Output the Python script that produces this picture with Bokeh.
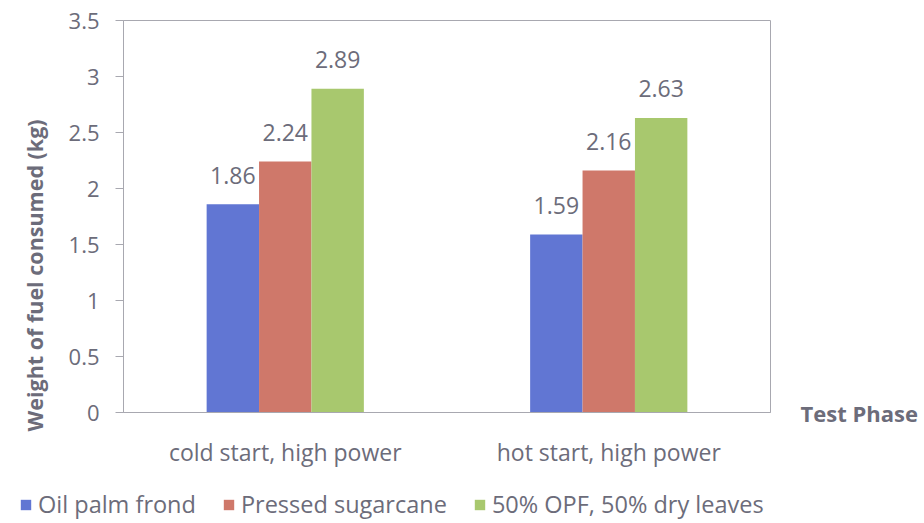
from bokeh.plotting import figure
from bokeh.layouts import column
from bokeh.models import (ColumnDataSource, FactorRange, Legend, LegendItem, Title,
                          NumeralTickFormatter, FixedTicker, LinearAxis, Range1d)
from bokeh.transform import dodge
from bokeh.core.properties import value
from bokeh.embed import file_html
from bokeh.resources import INLINE

phases = ["cold start, high power", "hot start, high power"]
series = ["Oil palm frond", "Pressed sugarcane", "50% OPF, 50% dry leaves"]
oil_palm = [1.86, 1.59]
sugarcane = [2.24, 2.16]
opf_leaves = [2.89, 2.63]
y_ticks = [0, 0.5, 1, 1.5, 2, 2.5, 3, 3.5]
colors = ["#6176d3", "#cf786a", "#a8c86e"]

FONT = "Open Sans"
TXT = "#6c6c7a"
AX = "#a8a8b0"

src = ColumnDataSource(dict(
    phase=phases, oil=oil_palm, sug=sugarcane, opf=opf_leaves,
    oil_t=[f"{v:.2f}" for v in oil_palm],
    sug_t=[f"{v:.2f}" for v in sugarcane],
    opf_t=[f"{v:.2f}" for v in opf_leaves],
))

xr = FactorRange(*phases, range_padding=0)
p = figure(x_range=xr, y_range=(0, 3.5),
           width=920, height=470, output_backend="svg", toolbar_location=None,
           min_border_left=123, min_border_right=148, min_border_top=20,
           min_border_bottom=55, frame_align=False)

p.xgrid.visible = False
p.ygrid.visible = False
p.outline_line_color = AX
p.background_fill_color = "white"
p.border_fill_color = "white"

ya = p.yaxis[0]
ya.ticker = FixedTicker(ticks=y_ticks)
ya.formatter = NumeralTickFormatter(format="0.[0]")
ya.major_tick_out = 8
ya.major_tick_in = 0
ya.minor_tick_out = 0
ya.minor_tick_in = 0
ya.axis_line_color = AX
ya.major_tick_line_color = AX
ya.major_label_text_font = FONT
ya.major_label_text_font_size = "22px"
ya.major_label_text_color = TXT
ya.major_label_standoff = 16

xa = p.xaxis[0]
xa.major_tick_out = 0
xa.major_tick_in = 0
xa.minor_tick_out = 0
xa.axis_line_color = AX
xa.major_label_text_font = FONT
xa.major_label_text_font_size = "23px"
xa.major_label_text_color = TXT
xa.major_label_standoff = 23

# "Test Phase" caption level with the category axis, right of the frame
ra = LinearAxis(ticker=FixedTicker(ticks=[0]), major_label_overrides={0: "Test Phase"},
                axis_line_color=None, major_tick_line_color=None, minor_tick_line_color=None,
                major_tick_out=0, major_tick_in=0, minor_tick_out=0,
                major_label_standoff=30, major_label_text_font=FONT,
                major_label_text_font_style="bold", major_label_text_font_size="22px",
                major_label_text_color=TXT)
p.add_layout(ra, "right")

p.add_layout(Title(text="Weight of fuel consumed (kg)", align="left", offset=-19,
                   standoff=34, text_font=FONT, text_font_style="bold",
                   text_font_size="21.5px", text_color=TXT), "left")

w = 0.162
vals = [("oil", "oil_t", -w), ("sug", "sug_t", 0.0), ("opf", "opf_t", w)]
for (col, tcol, off), c in zip(vals, colors):
    p.vbar(x=dodge("phase", off, range=xr), top=col, width=w,
           source=src, fill_color=c, line_color=None)
    p.text(x=dodge("phase", off, range=xr), y=col, text=tcol, source=src,
           text_align="center", text_baseline="alphabetic", y_offset=-29,
           text_font=value(FONT), text_font_size="23px", text_color=TXT)

# legend strip below the chart (its proxy bars fall outside its own y range)
q = figure(x_range=xr, y_range=Range1d(5, 6), width=920, height=53,
           output_backend="svg", toolbar_location=None,
           x_axis_type=None, y_axis_type=None, min_border=0, frame_align=False)
q.xgrid.visible = False
q.ygrid.visible = False
q.outline_line_color = None
items = []
for (col, tcol, off), c, name in zip(vals, colors, series):
    r = q.vbar(x=dodge("phase", off, range=xr), top=col, width=w,
               source=src, fill_color=c, line_color=None)
    items.append(LegendItem(label=name, renderers=[r]))
legend = Legend(items=items, orientation="horizontal", location=(19, 3),
                border_line_color=None, background_fill_alpha=0,
                glyph_width=13, glyph_height=13, label_standoff=6, spacing=26,
                padding=0, margin=0, label_text_font=FONT,
                label_text_font_size="23.5px", label_text_color=TXT)
q.add_layout(legend)

open("out.html", "w").write(file_html(column(p, q), INLINE))
